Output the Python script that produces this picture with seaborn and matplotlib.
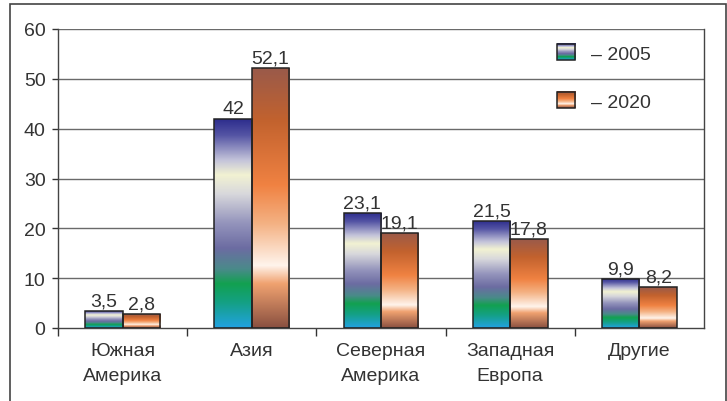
import numpy as np
import pandas as pd
import matplotlib
matplotlib.use("Agg")
import matplotlib.pyplot as plt
import seaborn as sns
from matplotlib.colors import LinearSegmentedColormap
from matplotlib.legend_handler import HandlerBase
from matplotlib.image import BboxImage
from matplotlib.transforms import Bbox, TransformedBbox
from matplotlib.patches import Rectangle, Patch

categories = ["Южная\nАмерика", "Азия", "Северная\nАмерика", "Западная\nЕвропа", "Другие"]
years = ["2005", "2020"]
values_2005 = [3.5, 42, 23.1, 21.5, 9.9]
values_2020 = [2.8, 52.1, 19.1, 17.8, 8.2]
labels_2005 = ["3,5", "42", "23,1", "21,5", "9,9"]
labels_2020 = ["2,8", "52,1", "19,1", "17,8", "8,2"]
yticks = [0, 10, 20, 30, 40, 50, 60]

df = pd.DataFrame({
    "region": categories * 2,
    "year": [years[0]] * 5 + [years[1]] * 5,
    "value": values_2005 + values_2020,
})

# gradients, top of bar -> bottom of bar
cmap_2005 = LinearSegmentedColormap.from_list("g2005", [
    (0.0, "#2b2b8c"), (0.08, "#5454a4"), (0.2, "#c4c4da"), (0.27, "#f2f2d2"),
    (0.36, "#d8d8dc"), (0.5, "#9494bc"), (0.62, "#6c6ca2"), (0.72, "#4a8a8a"),
    (0.79, "#12a150"), (0.88, "#14a084"), (1.0, "#22a2e2")])
cmap_2020 = LinearSegmentedColormap.from_list("g2020", [
    (0.0, "#9a5a4a"), (0.2, "#c2622e"), (0.45, "#f08242"), (0.6, "#f4b284"),
    (0.76, "#fff4ec"), (0.83, "#f0a270"), (1.0, "#8a5040")])
cmaps = {"2005": cmap_2005, "2020": cmap_2020}
grad = np.linspace(0, 1, 256).reshape(-1, 1)

FS = 14
sns.set_style("white")
plt.rcParams["font.family"] = ["Liberation Sans", "DejaVu Sans"]

fig = plt.figure(figsize=(7.27, 4.02), dpi=100)
ax = fig.add_axes([58 / 727, 1 - 329 / 402, (704 - 58) / 727, (329 - 30) / 402])

sns.barplot(data=df, x="region", y="value", hue="year", ax=ax, width=0.58,
            edgecolor="#222222", linewidth=1.1, legend=False, zorder=3)

for container, year in zip(ax.containers, years):
    for bar in container:
        x0, y0 = bar.get_x(), bar.get_y()
        w, h = bar.get_width(), bar.get_height()
        bar.set_facecolor("none")
        im = ax.imshow(grad, cmap=cmaps[year], aspect="auto", extent=[x0, x0 + w, y0, y0 + h],
                       origin="upper", interpolation="bilinear", zorder=2.5)
        im.set_clip_path(bar)

for container, labels in zip(ax.containers, [labels_2005, labels_2020]):
    ax.bar_label(container, labels=labels, padding=1, fontsize=FS, color="#333333")

ax.set_xlim(-0.5, 4.5)
ax.set_ylim(0, 60)
ax.set_yticks(yticks)
ax.set_xlabel("")
ax.set_ylabel("")
for y in yticks[1:]:
    ax.axhline(y, color="#6a6a6a", lw=1, zorder=1)

ax.set_xticks(np.arange(5) - 0.5, minor=True)
ax.tick_params(axis="x", which="major", length=0, pad=10, labelsize=FS, labelcolor="#333333")
ax.tick_params(axis="x", which="minor", length=6, width=1, color="#333333", direction="out", bottom=True)
ax.tick_params(axis="y", length=4, width=1, color="#333333", direction="out", left=True,
               labelsize=FS, labelcolor="#333333", pad=5)
for lbl in ax.get_xticklabels():
    lbl.set_linespacing(1.6)

sns.despine(ax=ax, top=True, right=False)
for s in ["left", "bottom", "right"]:
    ax.spines[s].set_color("#444444")
    ax.spines[s].set_linewidth(1)


class GradHandler(HandlerBase):
    def create_artists(self, legend, orig_handle, xdescent, ydescent, width, height, fontsize, trans):
        box = Bbox.from_bounds(-xdescent, -ydescent, width, height)
        img = BboxImage(TransformedBbox(box, trans), cmap=cmaps[orig_handle.get_label()],
                        interpolation="bilinear", origin="upper")
        img.set_data(grad)
        rect = Rectangle((-xdescent, -ydescent), width, height, facecolor="none",
                         edgecolor="#222222", lw=1.1, transform=trans)
        return [img, rect]


handles = [Patch(label=y) for y in years]
ax.legend(handles, ["– " + y for y in years], handler_map={Patch: GradHandler()},
          loc="upper left", bbox_to_anchor=((557 - 58) / 646, (329 - 45) / 299),
          frameon=False, fontsize=FS, borderpad=0, borderaxespad=0,
          handlelength=0.95, handleheight=0.9, handletextpad=0.8, labelspacing=1.5,
          labelcolor="#333333")

fig.patches.append(Rectangle((10 / 727, -0.05), (726 - 10) / 727, 1.05 - 5 / 402, fill=False,
                             edgecolor="#444444", lw=1.2, transform=fig.transFigure))

fig.savefig("out.png", dpi=100)
